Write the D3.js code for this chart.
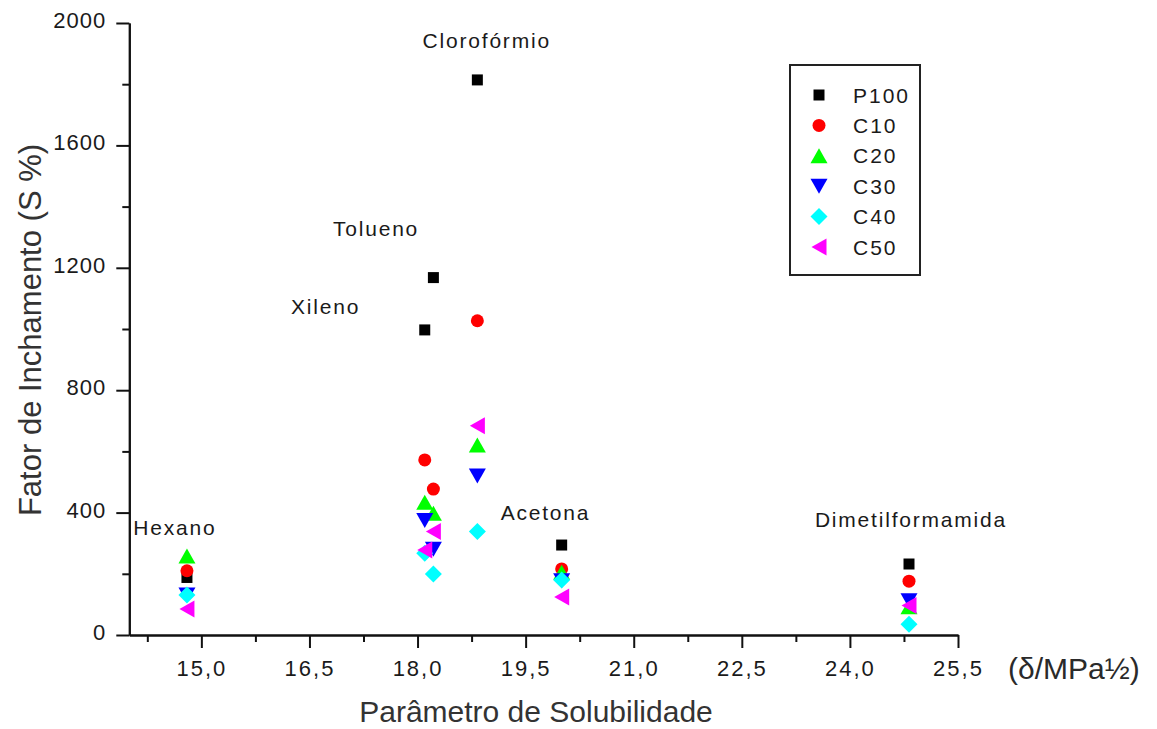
<!DOCTYPE html>
<html>
<head>
<meta charset="utf-8">
<script src="https://cdn.jsdelivr.net/npm/d3@7"></script>
<style>
  body { margin: 0; background: #fff; }
  svg { display: block; }
  text { font-family: Arial, "Liberation Sans", sans-serif; }
</style>
</head>
<body>
<svg id="chart" width="1157" height="729"></svg>
<script>
// Swelling factor of the rubber samples in each solvent vs. solubility parameter
const solvents   = ["Hexano", "Xileno", "Tolueno", "Clorofórmio", "Acetona", "Dimetilformamida"];
const solubility = [14.8, 18.1, 18.22, 18.83, 20.0, 24.82];

const seriesNames = ["P100", "C10", "C20", "C30", "C40", "C50"];
const P100 = [188, 997, 1168, 1814, 294, 232];
const C10  = [210, 572, 477, 1027, 216, 176];
const C20  = [258, 434, 398, 621, 205, 92];
const C30  = [131, 374, 280, 520, 177, 112];
const C40  = [131, 267, 199, 338, 180, 35];
const C50  = [85, 278, 338, 684, 124, 96];

const xTickValues = [15.0, 16.5, 18.0, 19.5, 21.0, 22.5, 24.0, 25.5];
const xMinorTicks = [14.25, 15.75, 17.25, 18.75, 20.25, 21.75, 23.25, 24.75];
const yTickValues = [0, 400, 800, 1200, 1600, 2000];
const yMinorTicks = [200, 600, 1000, 1400, 1800];

// where each solvent name sits, in data units (left edge, vertical middle)
const labelAnchorX = [14.056, 16.244, 16.826, 18.07, 19.153, 23.514];
const labelAnchorY = [351, 1072, 1330, 1942, 399, 376];

const seriesValues = [P100, C10, C20, C30, C40, C50];
const seriesColors = ["#000000", "#ff0000", "#00ff00", "#0000ff", "#00ffff", "#ff00ff"];

// marker shapes, centred on their bounding box
const shapes = {
  square:   { draw(c) { c.rect(-5.5, -5.5, 11, 11); } },
  circle:   { draw(c) { c.moveTo(6.5, 0); c.arc(0, 0, 6.5, 0, 2 * Math.PI); } },
  triUp:    { draw(c) { c.moveTo(0, -7.5); c.lineTo(8.5, 7.5); c.lineTo(-8.5, 7.5); c.closePath(); } },
  triDown:  { draw(c) { c.moveTo(0, 7.5); c.lineTo(8.5, -7.5); c.lineTo(-8.5, -7.5); c.closePath(); } },
  diamond:  { draw(c) { c.moveTo(0, -8.5); c.lineTo(8.5, 0); c.lineTo(0, 8.5); c.lineTo(-8.5, 0); c.closePath(); } },
  triLeft:  { draw(c) { c.moveTo(-7.5, 0); c.lineTo(7.5, -8.5); c.lineTo(7.5, 8.5); c.closePath(); } }
};
const seriesShapes = [shapes.square, shapes.circle, shapes.triUp, shapes.triDown, shapes.diamond, shapes.triLeft];

const svg = d3.select("#chart");

const x = d3.scaleLinear().domain([14, 25.5]).range([129.3, 958]);
const y = d3.scaleLinear().domain([0, 2000]).range([635, 23]);

const fmtComma = v => d3.format(".1f")(v).replace(".", ",");

// ---- axes ----
const axisColor = "#111";

const xMinor = svg.append("g").attr("transform", `translate(0,${y(0)})`)
  .call(d3.axisBottom(x).tickValues(xMinorTicks).tickSize(7).tickSizeOuter(0).tickFormat(""));
const xMajor = svg.append("g").attr("transform", `translate(0,${y(0)})`)
  .call(d3.axisBottom(x).tickValues(xTickValues).tickSize(13).tickSizeOuter(0).tickFormat(fmtComma));

const yMinor = svg.append("g").attr("transform", `translate(${x(14)},0)`)
  .call(d3.axisLeft(y).tickValues(yMinorTicks).tickSize(7).tickSizeOuter(0).tickFormat(""));
const yMajor = svg.append("g").attr("transform", `translate(${x(14)},0)`)
  .call(d3.axisLeft(y).tickValues(yTickValues).tickSize(13).tickSizeOuter(0).tickFormat(d3.format("d")));

[xMinor, xMajor, yMinor, yMajor].forEach(g => {
  g.select(".domain").attr("stroke", axisColor).attr("stroke-width", 2);
  g.selectAll(".tick line").attr("stroke", axisColor).attr("stroke-width", 2);
});

xMajor.selectAll(".tick text")
  .attr("y", 33)
  .attr("dy", null)
  .attr("dominant-baseline", "central")
  .attr("fill", "#1a1a1a")
  .style("font-size", "22px")
  .style("letter-spacing", "2px");

yMajor.selectAll(".tick text")
  .attr("x", -23)
  .attr("dy", null)
  .attr("y", -3)
  .attr("dominant-baseline", "central")
  .attr("fill", "#1a1a1a")
  .style("font-size", "22px")
  .style("letter-spacing", "1px");

// axis titles
svg.append("text")
  .attr("x", 536)
  .attr("y", 722)
  .attr("text-anchor", "middle")
  .attr("fill", "#333")
  .style("font-size", "30px")
  .text("Parâmetro de Solubilidade");

svg.append("text")
  .attr("x", 1008)
  .attr("y", 679)
  .attr("fill", "#2a2a2a")
  .style("font-size", "30px")
  .text("(δ/MPa½)");

svg.append("text")
  .attr("transform", "translate(41,330) rotate(-90)")
  .attr("text-anchor", "middle")
  .attr("fill", "#333")
  .style("font-size", "31px")
  .text("Fator de Inchamento (S %)");

// ---- solvent names ----
svg.append("g").selectAll("text")
  .data(solvents)
  .join("text")
  .attr("x", (d, i) => x(labelAnchorX[i]))
  .attr("y", (d, i) => y(labelAnchorY[i]))
  .attr("dominant-baseline", "central")
  .attr("fill", "#1a1a1a")
  .style("font-size", "21px")
  .style("letter-spacing", "1.8px")
  .text(d => d);

// ---- markers ----
seriesValues.forEach((vals, s) => {
  svg.append("g")
    .selectAll("path")
    .data(vals)
    .join("path")
    .attr("transform", (d, i) => `translate(${x(solubility[i])},${y(d)})`)
    .attr("d", d3.symbol().type(seriesShapes[s])())
    .attr("fill", seriesColors[s]);
});

// ---- legend ----
const legend = svg.append("g");
legend.append("rect")
  .attr("x", 790).attr("y", 65)
  .attr("width", 130).attr("height", 210)
  .attr("fill", "#fff")
  .attr("stroke", "#222")
  .attr("stroke-width", 2);

const legendRow = d3.scalePoint().domain(seriesNames).range([95, 247]);

legend.selectAll("path")
  .data(seriesNames)
  .join("path")
  .attr("transform", (d) => `translate(819,${legendRow(d)})`)
  .attr("d", (d, i) => d3.symbol().type(seriesShapes[i])())
  .attr("fill", (d, i) => seriesColors[i]);

legend.selectAll("text")
  .data(seriesNames)
  .join("text")
  .attr("x", 853)
  .attr("y", d => legendRow(d))
  .attr("dominant-baseline", "central")
  .attr("fill", "#1a1a1a")
  .style("font-size", "21px")
  .style("letter-spacing", "2px")
  .text(d => d);
</script>
</body>
</html>
